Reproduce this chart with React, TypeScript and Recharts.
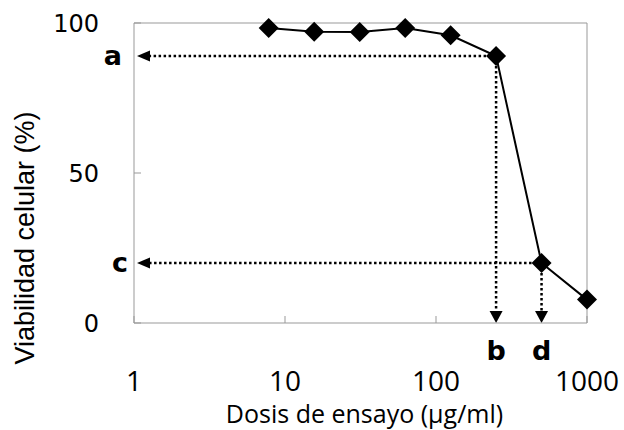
import { Label, Line, LineChart, ReferenceLine, XAxis, YAxis } from "recharts";

const DOSES = [7.8, 15.6, 31.25, 62.5, 125, 250, 500, 1000];
const VIABILITY = [98.3, 97.1, 97, 98.3, 95.9, 89, 20, 7.8];
const X_TICKS = [1, 10, 100, 1000];
const Y_TICKS = [0, 50, 100];
const X_TITLE = "Dosis de ensayo (µg/ml)";
const Y_TITLE = "Viabilidad celular (%)";

// letra de la guía + índice del punto del que sale
const H_GUIDES = [
  { letter: "a", idx: 5 },
  { letter: "c", idx: 6 },
];
const V_GUIDES = [
  { letter: "b", idx: 5 },
  { letter: "d", idx: 6 },
];

const data = DOSES.map((dose, i) => ({ dose, v: VIABILITY[i] }));

const BOX = "#999";
const LETTER_FONT = { fontFamily: "DejaVu Sans", fontWeight: 700, fontSize: 27 };

/** Diamante negro para cada punto */
function Diamond(props: any) {
  const { cx, cy } = props;
  const r = 10;
  return (
    <polygon
      points={`${cx},${cy - r} ${cx + r},${cy} ${cx},${cy + r} ${cx - r},${cy}`}
      fill="#000"
    />
  );
}

/** Flecha punteada horizontal hacia el eje Y, con su letra */
function hArrow(letter: string) {
  return (p: any) => {
    const { x1, y1, x2, y2 } = p;
    const tip = x2 + 3;
    const gap = letter === "a" ? 15 : 9;
    return (
      <g>
        <line x1={x1} y1={y1} x2={tip + 12} y2={y2} stroke="#000" strokeWidth={2.5} strokeDasharray="2.5 2.5" />
        <polygon points={`${tip},${y2} ${tip + 13},${y2 - 5.5} ${tip + 13},${y2 + 5.5}`} fill="#000" />
        <text x={tip - gap} y={y2 + 8.5} textAnchor="end" {...LETTER_FONT}>
          {letter}
        </text>
      </g>
    );
  };
}

/** Flecha punteada vertical hacia el eje X, con su letra */
function vArrow(letter: string) {
  return (p: any) => {
    const { x1, y1, x2, y2 } = p;
    return (
      <g>
        <line x1={x1} y1={y1} x2={x2} y2={y2 - 11} stroke="#000" strokeWidth={2.5} strokeDasharray="2.5 2.5" />
        <polygon points={`${x2},${y2} ${x2 - 6.5},${y2 - 12} ${x2 + 6.5},${y2 - 12}`} fill="#000" />
        <text x={x2} y={y2 + 37} textAnchor="middle" {...LETTER_FONT}>
          {letter}
        </text>
      </g>
    );
  };
}

export default function App() {
  return (
    <div style={{ position: "absolute", left: 0, top: 0 }}>
      <LineChart width={624} height={430} data={data} margin={{ top: 23, right: 37, left: 0, bottom: 0 }}>
        <XAxis
          type="number"
          dataKey="dose"
          scale="log"
          domain={[1, 1000]}
          ticks={X_TICKS}
          interval={0}
          height={107}
          stroke={BOX}
          tickSize={-7}
          tickMargin={55}
          tick={{ fontSize: 28, fontFamily: "Open Sans", fill: "#000" }}
        >
          <Label
            content={({ viewBox }: any) => (
              <text
                x={viewBox.x + viewBox.width / 2 + 4}
                y={viewBox.y + viewBox.height - 7}
                textAnchor="middle"
                fontFamily="Open Sans"
                fontSize={25}
                fill="#000"
              >
                {X_TITLE}
              </text>
            )}
          />
        </XAxis>
        <YAxis
          type="number"
          domain={[0, 100]}
          ticks={Y_TICKS}
          interval={0}
          width={134}
          stroke={BOX}
          tickSize={-7}
          tickMargin={42}
          tick={{ fontSize: 24, fontFamily: "DejaVu Sans", fill: "#000" }}
        >
          <Label
            content={({ viewBox }: any) => {
              const cx = viewBox.x + 14;
              const cy = viewBox.y + viewBox.height / 2 + 65;
              return (
                <text
                  transform={`translate(${cx},${cy}) rotate(-90)`}
                  y={20}
                  textAnchor="middle"
                  fontFamily="Liberation Sans"
                  fontSize={27}
                  fill="#000"
                >
                  {Y_TITLE}
                </text>
              );
            }}
          />
        </YAxis>
        <ReferenceLine y={100} stroke={BOX} />
        <ReferenceLine x={1000} stroke={BOX} />
        {H_GUIDES.map((g) => (
          <ReferenceLine
            key={g.letter}
            segment={[
              { x: DOSES[g.idx], y: VIABILITY[g.idx] },
              { x: 1, y: VIABILITY[g.idx] },
            ]}
            shape={hArrow(g.letter)}
          />
        ))}
        {V_GUIDES.map((g) => (
          <ReferenceLine
            key={g.letter}
            segment={[
              { x: DOSES[g.idx], y: VIABILITY[g.idx] },
              { x: DOSES[g.idx], y: 0 },
            ]}
            shape={vArrow(g.letter)}
          />
        ))}
        <Line
          type="linear"
          dataKey="v"
          stroke="#000"
          strokeWidth={2}
          dot={(p: any) => <Diamond {...p} key={`d-${p.index}`} />}
          activeDot={false}
          isAnimationActive={false}
        />
      </LineChart>
    </div>
  );
}
